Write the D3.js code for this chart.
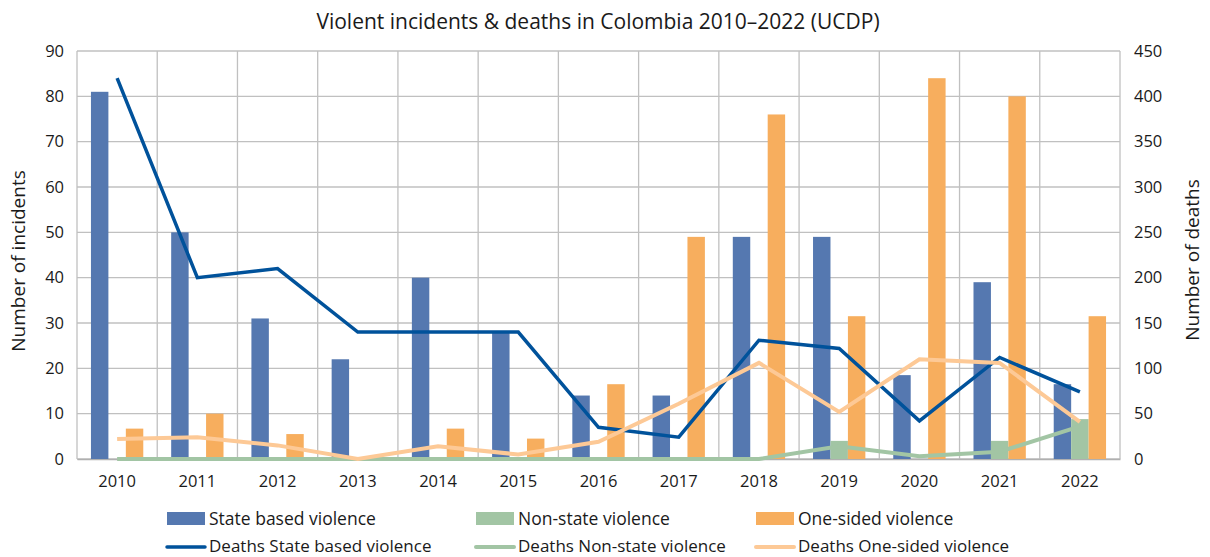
<!DOCTYPE html>
<html>
<head>
<meta charset="utf-8">
<script src="https://cdn.jsdelivr.net/npm/d3@7"></script>
<style>
  body { margin: 0; background: #fff; }
  svg text { font-family: "Open Sans", "DejaVu Sans", sans-serif; fill: #1a1a1a; }
</style>
</head>
<body>
<svg width="1210" height="557"></svg>
<script>
// chart data
const years = ["2010", "2011", "2012", "2013", "2014", "2015", "2016", "2017", "2018", "2019", "2020", "2021", "2022"];

const stateIncidents    = [81, 50, 31, 22, 40, 28, 14, 14, 49, 49, 18.5, 39, 16.5];
const nonStateIncidents = [0, 0, 0, 0, 0, 0, 0, 0, 0, 4, 0, 4, 8.8];
const oneSidedIncidents = [6.7, 10, 5.5, 0, 6.7, 4.5, 16.5, 49, 76, 31.5, 84, 80, 31.5];

const stateDeaths    = [420, 200, 210, 140, 140, 140, 35, 24, 131, 122, 42, 112, 74];
const nonStateDeaths = [0, 0, 0, 0, 0, 0, 0, 0, 0, 14, 3, 8, 36];
const oneSidedDeaths = [22, 24, 15, 0, 14, 5, 19, 61, 106, 52, 110, 106, 41];

const leftTicks  = [0, 10, 20, 30, 40, 50, 60, 70, 80, 90];
const rightTicks = [0, 50, 100, 150, 200, 250, 300, 350, 400, 450];

const barSeries = [
  { name: "State based violence", values: stateIncidents, color: "#5578b0" },
  { name: "Non-state violence", values: nonStateIncidents, color: "#a2c5a4" },
  { name: "One-sided violence", values: oneSidedIncidents, color: "#f7ae5e" }
];
const lineSeries = [
  { name: "Deaths State based violence", values: stateDeaths, color: "#00529b", width: 3.5 },
  { name: "Deaths Non-state violence", values: nonStateDeaths, color: "#a2c5a4", width: 4 },
  { name: "Deaths One-sided violence", values: oneSidedDeaths, color: "#fdc996", width: 4 }
];

const svg = d3.select("svg");
const plotL = 77, plotR = 1120, plotT = 51, plotB = 459;

const x = d3.scaleBand().domain(years).range([plotL, plotR]).padding(0);
const xInner = d3.scaleBand()
  .domain(barSeries.map(d => d.name))
  .range([0, x.bandwidth()])
  .paddingInner(0)
  .paddingOuter(0.8);
const yL = d3.scaleLinear().domain([0, 90]).range([plotB, plotT]);
const yR = d3.scaleLinear().domain([0, 450]).range([plotB, plotT]);

// grid
const grid = svg.append("g").attr("stroke", "#c0c0c0").attr("stroke-width", 1.3);
grid.selectAll(".h").data(leftTicks).enter().append("line")
  .attr("x1", plotL).attr("x2", plotR)
  .attr("y1", d => yL(d)).attr("y2", d => yL(d));
grid.selectAll(".v").data(years).enter().append("line")
  .attr("x1", d => x(d)).attr("x2", d => x(d))
  .attr("y1", plotT).attr("y2", plotB);
grid.append("line").attr("x1", plotR).attr("x2", plotR).attr("y1", plotT).attr("y2", plotB);

// left axis
const axL = svg.append("g")
  .attr("transform", `translate(${plotL},0)`)
  .call(d3.axisLeft(yL).tickValues(leftTicks).tickSize(0).tickPadding(13));
axL.select(".domain").remove();
axL.selectAll("text").style("font-size", "16.5px").attr("fill", "#1a1a1a");

// right axis
const axR = svg.append("g")
  .attr("transform", `translate(${plotR},0)`)
  .call(d3.axisRight(yR).tickValues(rightTicks).tickSize(0).tickPadding(14));
axR.select(".domain").remove();
axR.selectAll("text").style("font-size", "16.5px").attr("fill", "#1a1a1a");

// bottom axis
const axB = svg.append("g")
  .attr("transform", `translate(0,${plotB})`)
  .call(d3.axisBottom(x).tickSize(0).tickPadding(16));
axB.select(".domain").attr("stroke", "#b0b0b0").attr("stroke-width", 1.5);
axB.selectAll("text").style("font-size", "16.5px").attr("fill", "#1a1a1a");

// bars
barSeries.forEach(s => {
  svg.append("g").selectAll("rect")
    .data(years.map((yr, i) => ({ yr, v: s.values[i] })))
    .enter().append("rect")
    .attr("x", d => x(d.yr) + xInner(s.name))
    .attr("width", xInner.bandwidth())
    .attr("y", d => yL(d.v))
    .attr("height", d => plotB - yL(d.v))
    .attr("fill", s.color);
});

// lines
const line = d3.line()
  .x(d => x(d.yr) + x.bandwidth() / 2)
  .y(d => yR(d.v));
lineSeries.forEach(s => {
  svg.append("path")
    .datum(years.map((yr, i) => ({ yr, v: s.values[i] })))
    .attr("d", line)
    .attr("fill", "none")
    .attr("stroke", s.color)
    .attr("stroke-width", s.width)
    .attr("stroke-linejoin", "miter");
});

// title
svg.append("text")
  .attr("x", 598).attr("y", 29)
  .attr("text-anchor", "middle")
  .style("font-size", "21px")
  .text("Violent incidents & deaths in Colombia 2010\u20132022 (UCDP)");

// axis titles
svg.append("text")
  .attr("transform", "translate(25,261) rotate(-90)")
  .attr("text-anchor", "middle")
  .style("font-size", "19px")
  .text("Number of incidents");
svg.append("text")
  .attr("transform", "translate(1199,260) rotate(-90)")
  .attr("text-anchor", "middle")
  .style("font-size", "19px")
  .text("Number of deaths");

// legend
const legX = [167, 476, 756];
barSeries.forEach((s, i) => {
  const g = svg.append("g").attr("transform", `translate(${legX[i]},512)`);
  g.append("rect").attr("width", 38).attr("height", 13).attr("fill", s.color);
  g.append("text").attr("x", 42).attr("y", 13).style("font-size", "17.5px").text(s.name);
});
lineSeries.forEach((s, i) => {
  const g = svg.append("g").attr("transform", `translate(${legX[i]},547)`);
  g.append("line").attr("x1", 0).attr("x2", 38).attr("y1", 0).attr("y2", 0)
    .attr("stroke", s.color).attr("stroke-width", s.width).attr("stroke-linecap", "round");
  g.append("text").attr("x", 42).attr("y", 5).style("font-size", "17px").text(s.name);
});
</script>
</body>
</html>
